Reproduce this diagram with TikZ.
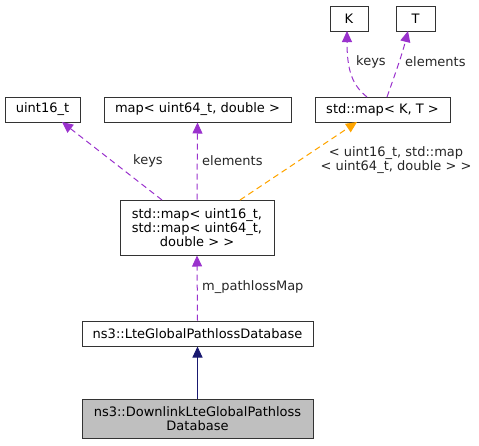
\documentclass[tikz,border=0pt]{standalone}
\usepackage{fontspec}
\setmainfont{DejaVu Sans}
\usetikzlibrary{arrows.meta}
\definecolor{purp}{HTML}{9A32CD}
\definecolor{orng}{HTML}{FFA500}
\definecolor{navy}{HTML}{191970}
\definecolor{grayfill}{HTML}{BFBFBF}
\begin{document}
\begin{tikzpicture}[x=1pt,y=-1pt,
  box/.style={draw=black!80,line width=1pt,fill=white,inner sep=0pt,font=\fontsize{13}{14}\selectfont},
  lbl/.style={font=\fontsize{13}{14}\selectfont,inner sep=0pt,text=black!85},
  usedash/.style={draw=purp,dashed,dash pattern=on 6pt off 4pt,line width=1pt,-{Triangle[length=11pt,width=10pt,fill=purp]}},
  tmpldash/.style={draw=orng,dashed,dash pattern=on 6pt off 4pt,line width=1pt,-{Triangle[length=11pt,width=10pt,fill=orng]}},
  inherit/.style={draw=navy,line width=1pt,-{Triangle[length=11pt,width=10pt,fill=navy]}}]
\useasboundingbox (0,0) rectangle (479,445);
\node[box,minimum width=38pt,minimum height=25pt] (K) at (349,18.5) {K};
\node[box,minimum width=39pt,minimum height=25pt] (T) at (415.5,18.5) {T};
\node[box,minimum width=75pt,minimum height=25pt] (u16) at (42.5,109.5) {uint16\_t};
\node[box,minimum width=187pt,minimum height=25pt] (m64) at (197.5,109.5) {map< uint64\_t, double >};
\node[box,minimum width=135pt,minimum height=25pt] (mKT) at (382.5,109.5) {std::map< K, T >};
\node[box,minimum width=154pt,minimum height=55pt,align=center] (m16) at (197,227.5) {std::map< uint16\_t,\\ std::map< uint64\_t,\\double > >};
\node[box,minimum width=231pt,minimum height=25pt] (lte) at (197.5,333.5) {ns3::LteGlobalPathlossDatabase};
\node[box,fill=grayfill,minimum width=231pt,minimum height=39pt,align=center] (dl) at (197.5,418.5) {ns3::DownlinkLteGlobalPathloss\\Database};
\coordinate (m16a) at (162,200);
\coordinate (m16c) at (240,200);
\coordinate (mKTa) at (367,97);
\coordinate (mKTb) at (387,97);
\draw[usedash] (m16a) -- (62,122);
\draw[usedash] (m16.north) -- (m64.south);
\draw[tmpldash] (m16c) -- (357,122);
\draw[usedash] (mKTa) .. controls (352,85) and (347,70) .. (347,31);
\draw[usedash] (mKTb) .. controls (393,80) and (402,55) .. (408,31);
\draw[usedash] (lte.north) -- (m16.south);
\draw[inherit] (dl.north) -- (lte.south);
\node[lbl] (l1) at (148,161) {keys};
\node[lbl,anchor=west] (l2) at (202,161) {elements};
\node[lbl,align=center] (l3) at (396,160) {< uint16\_t, std::map\\< uint64\_t, double > >};
\node[lbl,anchor=west] (l4) at (356,62) {keys};
\node[lbl,anchor=west] (l5) at (405,62) {elements};
\node[lbl,anchor=west] (l6) at (202,287) {m\_pathlossMap};
\end{tikzpicture}
\end{document}
